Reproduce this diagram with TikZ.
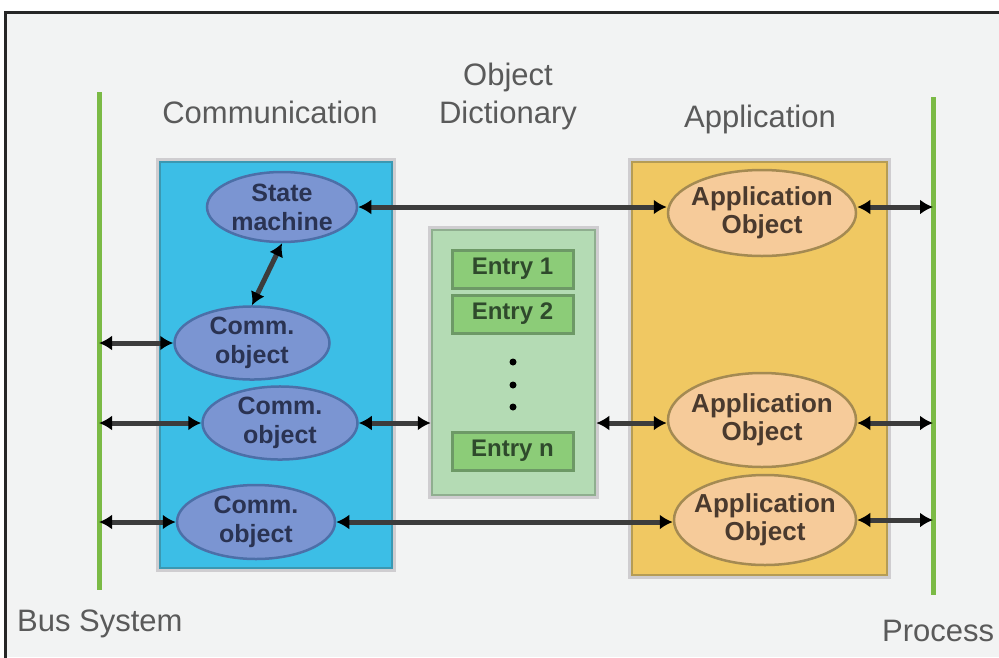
\documentclass[tikz,border=0pt]{standalone}
\usepackage{fontspec}
\setmainfont{Liberation Sans}
\usetikzlibrary{shapes.geometric,arrows.meta}

\definecolor{bgpanel}{HTML}{F2F3F3}
\definecolor{framecol}{HTML}{262626}
\definecolor{busgreen}{HTML}{7BBA45}
\definecolor{halo}{HTML}{CFCDD0}
\definecolor{commfill}{HTML}{3CBEE6}
\definecolor{commedge}{HTML}{3A98B2}
\definecolor{cellfill}{HTML}{7B95D2}
\definecolor{celledge}{HTML}{4C6FA8}
\definecolor{celltext}{HTML}{2A3352}
\definecolor{dictfill}{HTML}{B4DBB4}
\definecolor{dictedge}{HTML}{8FAE8F}
\definecolor{entryfill}{HTML}{8CCC78}
\definecolor{entryedge}{HTML}{6D9966}
\definecolor{entrytext}{HTML}{2F4A2C}
\definecolor{appfill}{HTML}{F0C862}
\definecolor{appedge}{HTML}{B59C55}
\definecolor{aellfill}{HTML}{F6CB9A}
\definecolor{aelledge}{HTML}{A48A52}
\definecolor{aelltext}{HTML}{4A3A2E}
\definecolor{labeltext}{HTML}{5A5A5A}
\definecolor{linkcol}{HTML}{3C3C3C}

\tikzset{
  x=1pt, y=-1pt,
  lbl/.style={text=labeltext, font=\fontsize{31}{34}\selectfont, inner sep=0pt},
  panel/.style={rectangle, inner sep=0pt, line width=2.5pt,
    preaction={draw=halo, line width=8pt}},
  commpanel/.style={panel, fill=commfill, draw=commedge},
  dictpanel/.style={panel, fill=dictfill, draw=dictedge,
    preaction={draw=halo, line width=7pt}},
  apppanel/.style={panel, fill=appfill, draw=appedge},
  cell/.style={ellipse, inner sep=0pt, line width=2.5pt, align=center,
    fill=cellfill, draw=celledge, text=celltext,
    font=\bfseries\fontsize{25}{29}\selectfont},
  aell/.style={ellipse, inner ysep=0pt, inner xsep=-8pt, line width=2.5pt, align=center,
    fill=aellfill, draw=aelledge, text=aelltext,
    font=\bfseries\fontsize{26}{28}\selectfont},
  entrybox/.style={rectangle, inner sep=0pt, line width=3pt,
    fill=entryfill, draw=entryedge, text=entrytext,
    minimum width=121, minimum height=38,
    font=\bfseries\fontsize{24}{26}\selectfont},
  busline/.style={draw=busgreen, line width=5pt},
  link/.style={draw=linkcol, line width=5pt,
    {Latex[length=13pt,width=15pt,color=black]}-{Latex[length=13pt,width=15pt,color=black]}},
}

\begin{document}
\begin{tikzpicture}
\useasboundingbox (0,0) rectangle (999,657);
% page and outer frame
\fill[white] (0,0) rectangle (999,657);
\fill[bgpanel] (5,12) rectangle (999,657);
\draw[framecol, line width=3pt] (5,670) -- (5,12) -- (1010,12);

% bus system and process lines
\coordinate (bustop) at (99,92);
\coordinate (busbot) at (99,590);
\coordinate (proctop) at (933,97);
\coordinate (procbot) at (933,595);
\draw[busline] (bustop) -- (busbot);
\draw[busline] (proctop) -- (procbot);

% column headings
\node[lbl, anchor=base] (hcomm) at (270,123) {Communication};
\node[lbl, anchor=base] (hobj) at (508,85) {Object};
\node[lbl, anchor=base] (hdict) at (508,123) {Dictionary};
\node[lbl, anchor=base] (happ) at (760,127) {Application};
\node[lbl, anchor=base west] (hbus) at (17,631) {Bus System};
\node[lbl, anchor=base west] (hproc) at (882,641) {Process};

% panels
\node[commpanel, minimum width=232, minimum height=406] (comm) at (276,365) {};
\node[dictpanel, minimum width=163, minimum height=265] (dict) at (513.5,362.5) {};
\node[apppanel, minimum width=255, minimum height=413] (app) at (759.5,368.5) {};

% communication objects
\node[cell, minimum width=150, minimum height=70] (sm) at (282,207) {State\\machine};
\node[cell, minimum width=155, minimum height=72] (c1) at (252,343) {Comm.\\object};
\node[cell, minimum width=155, minimum height=70] (c2) at (280,423) {Comm.\\object};
\node[cell, minimum width=158, minimum height=74] (c3) at (256,522) {Comm.\\object};

% dictionary entries
\node[entrybox] (e1) at (512.5,269) {Entry 1};
\node[entrybox] (e2) at (512.5,314) {Entry 2};
\node[entrybox] (en) at (512.5,451) {Entry n};
\foreach \yy/\nm in {362/d1,385/d2,407/d3}
  \fill[black] (513,\yy) circle (3.5pt) coordinate (\nm);

% application objects
\node[aell, minimum width=188, minimum height=86] (a1) at (762,213) {Application\\Object};
\node[aell, minimum width=188, minimum height=94] (a2) at (762,420) {Application\\Object};
\node[aell, minimum width=182, minimum height=90] (a3) at (765,520) {Application\\Object};

% connectors
\draw[link] (sm.east) -- (sm.east -| a1.west);
\draw[link] (a1.east |- sm.east) -- (sm.east -| proctop);
\draw[link] (sm.south) -- (c1.north);
\draw[link] (c1.west -| bustop) -- (c1.west);
\draw[link] (c2.west -| bustop) -- (c2.west);
\draw[link] (c2.east) -- (c2.east -| dict.west);
\draw[link] (c2.east -| dict.east) -- (c2.east -| a2.west);
\draw[link] (a2.east |- c2.east) -- (c2.east -| proctop);
\draw[link] (c3.west -| bustop) -- (c3.west);
\draw[link] (c3.east) -- (c3.east -| a3.west);
\draw[link] (a3.east) -- (a3.east -| proctop);
\end{tikzpicture}
\end{document}
